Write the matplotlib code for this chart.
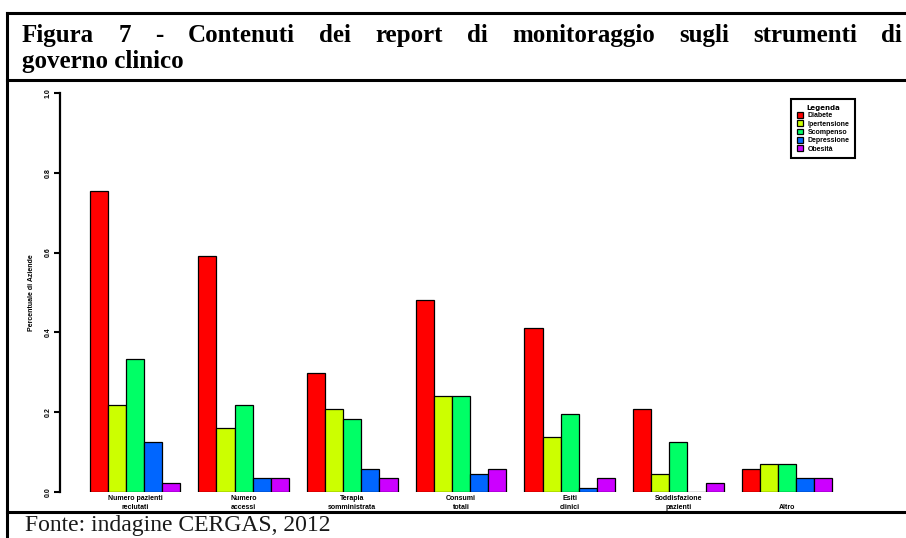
import matplotlib
matplotlib.use("Agg")
import matplotlib.pyplot as plt
from matplotlib.lines import Line2D
import numpy as np

# dati (quota di aziende)
categorie = ["Numero pazienti\nreclutati", "Numero\naccessi", "Terapia\nsomministrata",
             "Consumi\ntotali", "Esiti\nclinici", "Soddisfazione\npazienti", "\nAltro"]
serie = ["Diabete", "Ipertensione", "Scompenso", "Depressione", "Obesità"]
diabete = [0.754, 0.591, 0.297, 0.481, 0.412, 0.207, 0.058]
ipertensione = [0.218, 0.161, 0.207, 0.241, 0.138, 0.046, 0.069]
scompenso = [0.333, 0.218, 0.184, 0.241, 0.195, 0.126, 0.069]
depressione = [0.126, 0.034, 0.058, 0.046, 0.011, 0.0, 0.034]
obesita = [0.023, 0.034, 0.034, 0.058, 0.034, 0.023, 0.034]
colori = ["#FF0000", "#CCFF00", "#00FF66", "#0066FF", "#CC00FF"]

W, H = 906, 538
fig = plt.figure(figsize=(W / 100, H / 100), dpi=100)

def fx(px):
    return px / W

def fy(py):
    return 1 - py / H

# cornice
for yy in (13, 80, 512):
    fig.add_artist(Line2D([fx(7), 1], [fy(yy), fy(yy)], color="black", lw=2.2))
fig.add_artist(Line2D([fx(7), fx(7)], [fy(13), 0], color="black", lw=2.2))

# area del grafico
ax = fig.add_axes([fx(60), fy(492), fx(862) - fx(60), fy(93) - fy(492)])
valori = [diabete, ipertensione, scompenso, depressione, obesita]
n = len(categorie)
for j, (vals, nome, col) in enumerate(zip(valori, serie, colori)):
    x = 1 + 6 * np.arange(n) + j + 0.5
    ax.bar(x, vals, width=1, color=col, edgecolor="black", linewidth=0.9, label=nome)

ax.set_xlim(-0.64, 43.64)
ax.set_ylim(0, 1)
for s in ("top", "right", "bottom"):
    ax.spines[s].set_visible(False)
ax.spines["left"].set_linewidth(1.6)

ax.set_yticks([0, 0.2, 0.4, 0.6, 0.8, 1.0])
ax.set_yticklabels(["0.0", "0.2", "0.4", "0.6", "0.8", "1.0"], rotation=90,
                   va="center", fontsize=5, fontweight="bold", family="Liberation Sans")
ax.tick_params(axis="y", length=4, width=1.5, pad=2)
ax.set_ylabel("Percentuale di Aziende", fontsize=5, fontweight="bold",
              family="Liberation Sans", labelpad=7)

ax.set_xticks(1 + 6 * np.arange(n) + 2.5)
ax.set_xticklabels(categorie, fontsize=5, fontweight="bold", family="Liberation Sans",
                   linespacing=1.5)
ax.tick_params(axis="x", length=0, pad=2)

leg = ax.legend(loc="upper left", bbox_to_anchor=(fx(788), fy(96)),
                bbox_transform=fig.transFigure, title="Legenda", fancybox=False,
                edgecolor="black", framealpha=1, borderpad=0.8,
                handlelength=0.9, handleheight=0.9, handletextpad=0.6,
                labelspacing=0.15, prop={"size": 5, "weight": "bold", "family": "Liberation Sans"})
leg.get_title().set_fontsize(5)
leg.get_title().set_fontweight("bold")
leg.get_frame().set_linewidth(1.5)

# titolo giustificato
riga1 = "Figura 7 - Contenuti dei report di monitoraggio sugli strumenti di"
riga2 = "governo clinico"
tkw = dict(fontsize=18, fontweight="bold", family="Liberation Serif", va="baseline")
parole = [fig.text(0, fy(42), p, **tkw) for p in riga1.split()]
r = fig.canvas.get_renderer()
larg = [t.get_window_extent(r).width for t in parole]
x0, x1 = 22, 902
gap = (x1 - x0 - sum(larg)) / (len(parole) - 1)
pos = x0
for t, w in zip(parole, larg):
    t.set_x(fx(pos))
    pos += w + gap
fig.text(fx(22), fy(68), riga2, **tkw)

fig.text(fx(25), fy(531), "Fonte: indagine CERGAS, 2012", fontsize=17,
         family="Liberation Serif", va="baseline", color="#1a1a1a")

fig.savefig("out.png", dpi=100)
